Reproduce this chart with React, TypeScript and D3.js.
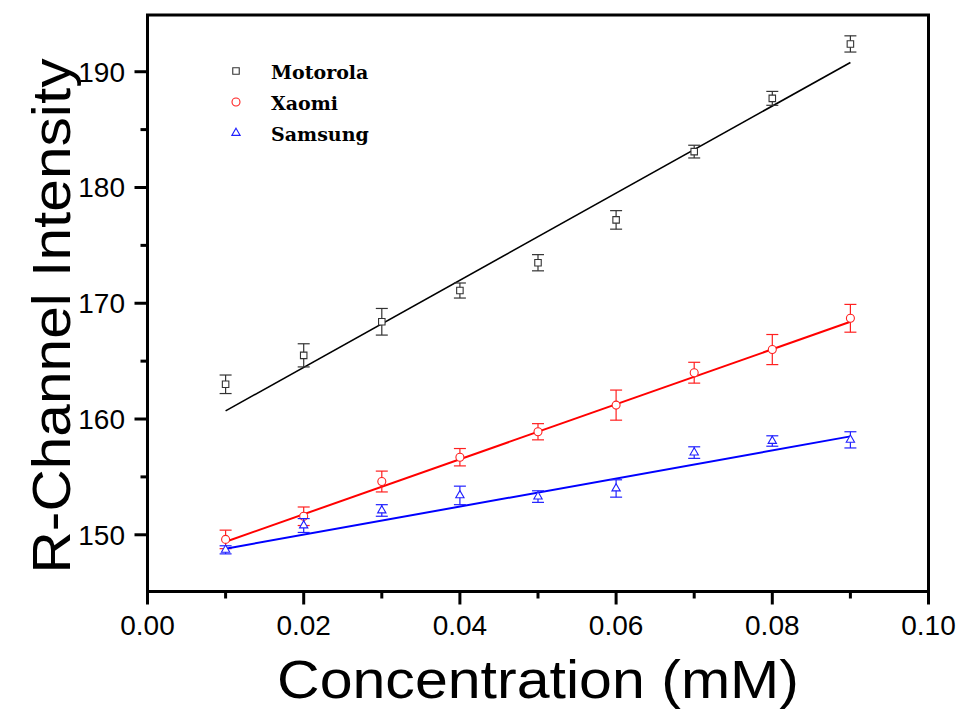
import React, { useEffect, useRef } from "react";
import * as d3 from "d3";

// concentration (mM) for each measurement
const concentrations = [0.01, 0.02, 0.03, 0.04, 0.05, 0.06, 0.07, 0.08, 0.09];

const motorolaMean = [163.0, 165.5, 168.4, 171.1, 173.5, 177.2, 183.1, 187.7, 192.4];
const motorolaErr = [0.8, 1.0, 1.15, 0.65, 0.7, 0.8, 0.55, 0.6, 0.7];
const motorolaFit = [160.7, 190.8];

const xaomiMean = [149.6, 151.6, 154.6, 156.7, 158.9, 161.2, 164.0, 166.0, 168.7];
const xaomiErr = [0.8, 0.8, 0.9, 0.75, 0.7, 1.3, 0.9, 1.3, 1.2];
const xaomiFit = [149.4, 168.4];

const samsungMean = [148.7, 150.8, 152.1, 153.4, 153.3, 154.0, 157.1, 158.1, 158.2];
const samsungErr = [0.35, 0.6, 0.5, 0.8, 0.5, 0.75, 0.5, 0.45, 0.7];
const samsungFit = [148.8, 158.5];

const seriesNames = ["Motorola", "Xaomi", "Samsung"];

const xTicks = [0, 0.02, 0.04, 0.06, 0.08, 0.1];
const xMinorTicks = [0.01, 0.03, 0.05, 0.07, 0.09];
const yTicks = [150, 160, 170, 180, 190];
const yMinorTicks = [145.5, 155, 165, 175, 185].filter((v) => v % 5 === 0);

const App = () => {
  const ref = useRef<SVGSVGElement>(null);

  useEffect(() => {
    const width = 962;
    const height = 713;
    const m = { left: 147.5, right: 928.5, top: 15, bottom: 591.5 };

    const svg = d3.select(ref.current);
    svg.selectAll("*").remove();
    svg.attr("width", width).attr("height", height);

    const x = d3.scaleLinear().domain([0, 0.1]).range([m.left, m.right]);
    const y = d3.scaleLinear().domain([145.1, 194.9]).range([m.bottom, m.top]);

    const series = [
      { name: seriesNames[0], mean: motorolaMean, err: motorolaErr, fit: motorolaFit, color: "#000000", mark: "#333333", symbol: d3.symbolSquare, size: 42, lw: 1.6 },
      { name: seriesNames[1], mean: xaomiMean, err: xaomiErr, fit: xaomiFit, color: "#ff0000", mark: "#ff2020", symbol: d3.symbolCircle, size: 50, lw: 2 },
      { name: seriesNames[2], mean: samsungMean, err: samsungErr, fit: samsungFit, color: "#0000ff", mark: "#2020ff", symbol: d3.symbolTriangle, size: 30, lw: 2 },
    ];

    const plot = svg.append("g");

    series.forEach((s) => {
      const g = plot.append("g");
      // fit line
      g.append("line")
        .attr("x1", x(concentrations[0]))
        .attr("x2", x(concentrations[concentrations.length - 1]))
        .attr("y1", y(s.fit[0]))
        .attr("y2", y(s.fit[1]))
        .attr("stroke", s.color)
        .attr("stroke-width", s.lw);

      const pts = concentrations.map((c, i) => ({ c, v: s.mean[i], e: s.err[i] }));
      const cap = 6;

      // error bars
      const eb = g.selectAll("g.eb").data(pts).enter().append("g")
        .attr("stroke", s.mark).attr("stroke-width", 1.2).attr("fill", "none");
      eb.append("line")
        .attr("x1", (d) => x(d.c)).attr("x2", (d) => x(d.c))
        .attr("y1", (d) => y(d.v + d.e)).attr("y2", (d) => y(d.v - d.e));
      eb.append("line")
        .attr("x1", (d) => x(d.c) - cap).attr("x2", (d) => x(d.c) + cap)
        .attr("y1", (d) => y(d.v + d.e)).attr("y2", (d) => y(d.v + d.e));
      eb.append("line")
        .attr("x1", (d) => x(d.c) - cap).attr("x2", (d) => x(d.c) + cap)
        .attr("y1", (d) => y(d.v - d.e)).attr("y2", (d) => y(d.v - d.e));

      // markers
      g.selectAll("path.pt").data(pts).enter().append("path")
        .attr("d", d3.symbol().type(s.symbol).size(s.size)())
        .attr("transform", (d) => `translate(${x(d.c)},${y(d.v)})`)
        .attr("fill", "white")
        .attr("stroke", s.mark)
        .attr("stroke-width", 1.1);
    });

    // frame
    const axisColor = "#000";
    svg.append("rect")
      .attr("x", m.left).attr("y", m.top)
      .attr("width", m.right - m.left).attr("height", m.bottom - m.top)
      .attr("fill", "none").attr("stroke", axisColor).attr("stroke-width", 3);

    // x ticks
    svg.selectAll("line.xt").data(xTicks).enter().append("line")
      .attr("x1", (d) => x(d)).attr("x2", (d) => x(d))
      .attr("y1", m.bottom).attr("y2", m.bottom + 13)
      .attr("stroke", axisColor).attr("stroke-width", 3);
    svg.selectAll("line.xm").data(xMinorTicks).enter().append("line")
      .attr("x1", (d) => x(d)).attr("x2", (d) => x(d))
      .attr("y1", m.bottom).attr("y2", m.bottom + 7)
      .attr("stroke", axisColor).attr("stroke-width", 3);
    svg.selectAll("text.xl").data(xTicks).enter().append("text")
      .attr("x", (d) => x(d)).attr("y", 635)
      .attr("text-anchor", "middle")
      .style("font-family", "Arial, 'Liberation Sans', sans-serif")
      .style("font-size", "28px")
      .text((d) => d3.format(".2f")(d));

    // y ticks
    svg.selectAll("line.yt").data(yTicks).enter().append("line")
      .attr("x1", m.left - 13).attr("x2", m.left)
      .attr("y1", (d) => y(d)).attr("y2", (d) => y(d))
      .attr("stroke", axisColor).attr("stroke-width", 3);
    svg.selectAll("line.ym").data(yMinorTicks).enter().append("line")
      .attr("x1", m.left - 7).attr("x2", m.left)
      .attr("y1", (d) => y(d)).attr("y2", (d) => y(d))
      .attr("stroke", axisColor).attr("stroke-width", 3);
    svg.selectAll("text.yl").data(yTicks).enter().append("text")
      .attr("x", 125).attr("y", (d) => y(d))
      .attr("dy", "0.35em")
      .attr("text-anchor", "end")
      .style("font-family", "Arial, 'Liberation Sans', sans-serif")
      .style("font-size", "28px")
      .text((d) => d);

    // axis titles
    svg.append("text")
      .attr("x", (m.left + m.right) / 2).attr("y", 698)
      .attr("text-anchor", "middle")
      .attr("textLength", 522).attr("lengthAdjust", "spacingAndGlyphs")
      .style("font-family", "Arial, 'Liberation Sans', sans-serif")
      .style("font-size", "53px")
      .text("Concentration (mM)");
    svg.append("text")
      .attr("transform", `translate(70,316) rotate(-90)`)
      .attr("text-anchor", "middle")
      .attr("textLength", 515).attr("lengthAdjust", "spacingAndGlyphs")
      .style("font-family", "Arial, 'Liberation Sans', sans-serif")
      .style("font-size", "53px")
      .text("R-Channel Intensity");

    // legend
    const leg = svg.append("g");
    series.forEach((s, i) => {
      const ly = 71 + i * 31;
      leg.append("path")
        .attr("d", d3.symbol().type(s.symbol).size(s.size)())
        .attr("transform", `translate(236,${ly})`)
        .attr("fill", "white")
        .attr("stroke", s.mark)
        .attr("stroke-width", 1.1);
      leg.append("text")
        .attr("x", 271).attr("y", ly + 8)
        .style("font-family", "'DejaVu Serif', serif")
        .style("font-weight", "bold")
        .style("font-size", "19px")
        .text(s.name);
    });
  }, []);

  return (
    <svg
      ref={ref}
      style={{ position: "absolute", left: 0, top: 0, display: "block", background: "white" }}
    ></svg>
  );
};

export default App;
